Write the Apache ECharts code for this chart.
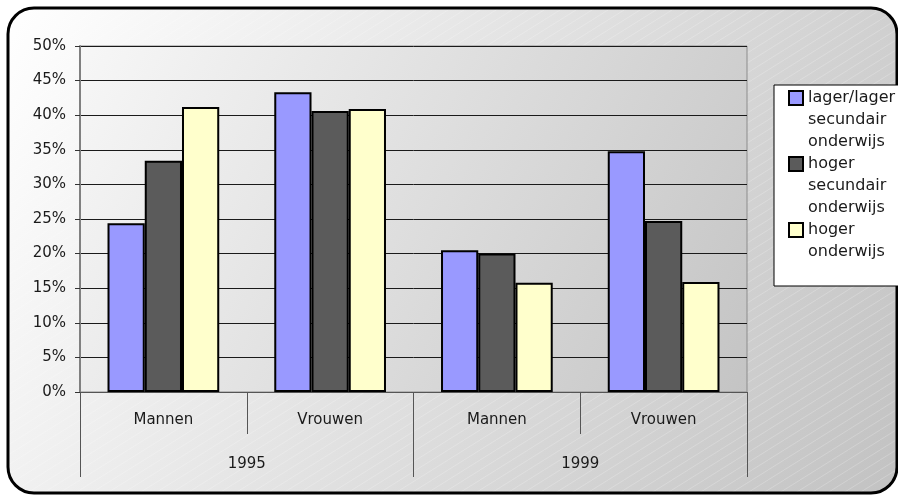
<!DOCTYPE html>
<html lang="nl">
<head>
<meta charset="UTF-8" />
<title>Onderwijsniveau 1995 - 1999</title>
<style>
  body { margin: 0; padding: 0; background: #ffffff; }
  #chart { width: 898px; height: 496px; }
</style>
</head>
<body>
<div id="chart"></div>
<script src="https://cdn.jsdelivr.net/npm/echarts@6/dist/echarts.min.js"></script>
<script>
  // categorieën (onderste as = jaar, daarboven geslacht)
  const groups = ["Mannen", "Vrouwen", "Mannen", "Vrouwen"];
  const years = ["1995", "1999"];
  const seriesNames = [
    "lager/lager secundair onderwijs",
    "hoger secundair onderwijs",
    "hoger onderwijs"
  ];
  // lege regels ervoor zodat de eerste regel naast het icoon staat
  const legendLabels = [
    "\n\nlager/lager\nsecundair\nonderwijs",
    "\n\nhoger\nsecundair\nonderwijs",
    "\n\nhoger\nonderwijs\n "
  ];
  // waarden in %
  const lager = [24.4, 43.3, 20.5, 34.8];
  const hogerSec = [33.4, 40.6, 20.0, 24.7];
  const hoger = [41.2, 40.9, 15.8, 15.9];
  const colors = ["#9999ff", "#5b5b5b", "#ffffcc"];

  const font = "DejaVu Sans";

  // fijne diagonale strepen op de achtergrond
  function stripes() {
    const c = document.createElement("canvas");
    c.width = 16;
    c.height = 10;
    const ctx = c.getContext("2d");
    ctx.strokeStyle = "rgba(255,255,255,0.22)";
    ctx.lineWidth = 1;
    ctx.beginPath();
    ctx.moveTo(-1.6, 11);
    ctx.lineTo(17.6, -1);
    ctx.stroke();
    return c;
  }

  const frame = { x: 8, y: 8, width: 889, height: 485, r: 26 };

  const chart = echarts.init(document.getElementById("chart"));
  chart.setOption({
    animation: false,
    graphic: [
      {
        type: "rect", z: -10, shape: frame,
        style: {
          fill: new echarts.graphic.LinearGradient(0, 0, 1, 1, [
            { offset: 0, color: "#ffffff" },
            { offset: 1, color: "#c2c2c2" }
          ])
        }
      },
      { type: "rect", z: -9, shape: frame, style: { fill: { image: stripes(), repeat: "repeat" } } },
      { type: "rect", z: -8, shape: frame, style: { fill: "none", stroke: "#000", lineWidth: 3 } },
      {
        type: "rect", z: 1,
        shape: { x: 774, y: 85, width: 130, height: 201 },
        style: { fill: "#ffffff", stroke: "#000", lineWidth: 1 }
      }
    ],
    grid: {
      left: 80, right: 151, top: 46, bottom: 104,
      show: true,
      backgroundColor: new echarts.graphic.LinearGradient(0, 0, 1, 1, [
        { offset: 0, color: "#f7f7f7" },
        { offset: 1, color: "#c4c4c4" }
      ]),
      borderColor: "#8c8c8c",
      borderWidth: 1
    },
    legend: {
      orient: "vertical",
      left: 788,
      top: 43,
      padding: 0,
      itemGap: -44,
      itemWidth: 14,
      itemHeight: 14,
      icon: "rect",
      itemStyle: { borderColor: "#000", borderWidth: 2 },
      formatter: (name) => legendLabels[seriesNames.indexOf(name)],
      textStyle: { fontFamily: font, fontSize: 16, lineHeight: 22, color: "#1a1a1a" },
      data: seriesNames
    },
    xAxis: [
      {
        type: "category",
        position: "bottom",
        data: groups,
        axisLine: { show: true, lineStyle: { color: "#555", width: 1 } },
        axisTick: { show: true, length: 42, interval: 0, lineStyle: { color: "#555" } },
        axisLabel: { fontFamily: font, fontSize: 15, color: "#1a1a1a", margin: 21, interval: 0 }
      },
      {
        type: "category",
        position: "bottom",
        data: years,
        axisLine: { show: false },
        axisTick: { show: true, length: 85, interval: 0, lineStyle: { color: "#555" } },
        axisLabel: { fontFamily: font, fontSize: 15, color: "#1a1a1a", margin: 65, interval: 0 }
      }
    ],
    yAxis: {
      type: "value",
      min: 0,
      max: 50,
      interval: 5,
      axisLine: { show: true, lineStyle: { color: "#808080", width: 2 } },
      axisTick: { show: true, length: 5, lineStyle: { color: "#333" } },
      axisLabel: { formatter: "{value}%", fontFamily: font, fontSize: 15, color: "#1a1a1a", margin: 14 },
      splitLine: { lineStyle: { color: "#1a1a1a", width: 1 } }
    },
    series: [lager, hogerSec, hoger].map((values, i) => ({
      name: seriesNames[i],
      type: "bar",
      xAxisIndex: 0,
      data: values,
      barGap: "0%",
      barCategoryGap: "33%",
      itemStyle: { color: colors[i], borderColor: "#000", borderWidth: 2 }
    }))
  });
</script>
</body>
</html>
